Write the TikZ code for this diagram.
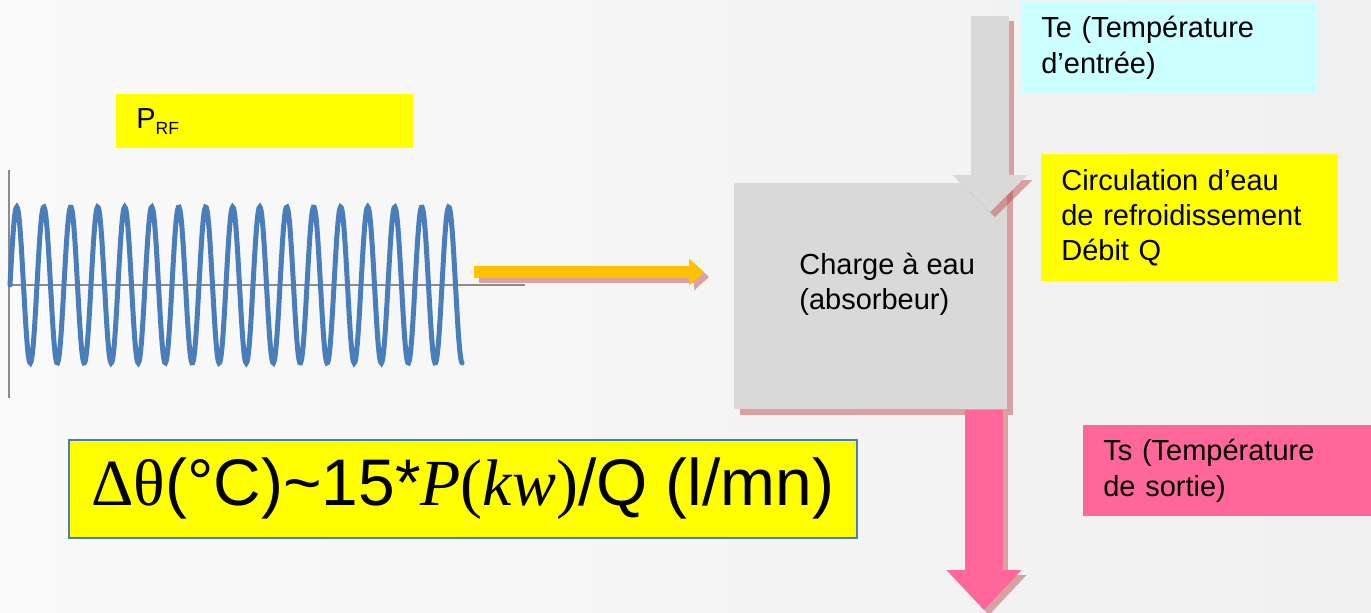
\documentclass[tikz,border=0pt]{standalone}
\usepackage{fontspec}
\setmainfont{Liberation Sans}
\newfontfamily\formulaserif{Liberation Serif}
\usetikzlibrary{arrows.meta,shadows,calc}
\definecolor{rfyellow}{HTML}{FFFF00}
\definecolor{tecyan}{HTML}{CCFFFF}
\definecolor{tspink}{HTML}{FF6699}
\definecolor{rforange}{HTML}{FFC000}
\definecolor{loadgray}{HTML}{D9D9D9}
\definecolor{waveblue}{HTML}{4A7EBB}
\definecolor{shadowred}{HTML}{C0504D}
\definecolor{axisgray}{HTML}{8C8C8C}
\begin{document}
\begin{tikzpicture}[x=0.02cm, y=-0.02cm,
  txt/.style={font=\fontsize{16.5pt}{20pt}\selectfont},
  infobox/.style={txt, anchor=north west, align=left, inner xsep=0.4cm, inner ysep=0pt},
  flowshadow/.style={color=shadowred, opacity=0.5, transform canvas={xshift=0.1cm, yshift=-0.1cm}},
  rfarrow/.style={line width=0.24cm, -{Triangle[width=0.54cm, length=0.3cm, line width=0pt]}},
  waterarrow/.style={line width=0.76cm, -{Triangle[width=1.5cm, length=#1, line width=0pt]}}]
  \path[use as bounding box, left color=black!2, middle color=white, right color=black!6] (0,0) rectangle (1371,612);
  % signal RF
  \draw[axisgray, line width=0.04cm] (9,170) -- (9,398);
  \draw[axisgray, line width=0.04cm] (9,285) -- (525,285);
  \draw[waveblue, line width=0.1cm, line cap=round] plot[domain=0:16.75, samples=600, smooth] ({10+27*\x}, {285-78*sin(360*\x)});
  \node[infobox, fill=rfyellow, text width=5.14cm, minimum height=1.08cm] (prf) at (116,94) {P\raisebox{-3.5pt}{\fontsize{10pt}{12pt}\selectfont RF}};
  % charge
  \node[fill=loadgray, anchor=north west, minimum width=5.46cm, minimum height=4.52cm,
    drop shadow={shadow xshift=0.12cm, shadow yshift=-0.12cm, fill=shadowred, opacity=0.5}] (load) at (734,183) {};
  \node[txt, anchor=west, align=left, inner sep=0pt] (loadtxt) at (799,284) {Charge à eau\\(absorbeur)};
  \coordinate (rfout) at (474,272);
  \draw[rfarrow, flowshadow] (rfout) -- ([xshift=-0.6cm]rfout -| load.west);
  \draw[rfarrow, rforange] (rfout) -- ([xshift=-0.6cm]rfout -| load.west);
  % eau
  \coordinate (tein) at (990,16);
  \coordinate (tsout) at (984,610);
  \draw[waterarrow=0.74cm, flowshadow] (tein) -- ($(tein |- load.north)+(0,29)$);
  \draw[waterarrow=0.74cm, loadgray] (tein) -- ($(tein |- load.north)+(0,29)$);
  \draw[waterarrow=0.8cm, flowshadow] (tsout |- load.south) -- (tsout);
  \draw[waterarrow=0.8cm, tspink] (tsout |- load.south) -- (tsout);
  \node[infobox, fill=tecyan, text width=5.12cm, minimum height=1.82cm] (te) at (1021,2) {Te (Température\\d’entrée)};
  \node[infobox, fill=rfyellow, text width=5.14cm, minimum height=2.54cm] (circ) at (1041,154) {Circulation d’eau\\de refroidissement\\Débit Q};
  \node[infobox, fill=tspink, text width=4.96cm, minimum height=1.82cm] (ts) at (1083,425) {Ts (Température\\de sortie)};
  % formule
  \node[draw=waveblue, line width=0.04cm, fill=rfyellow, anchor=north west, minimum width=15.76cm, minimum height=1.96cm,
    font=\fontsize{37.5pt}{44pt}\selectfont] (formula) at (68,439)
    {{\formulaserif Δθ}(°C)\textasciitilde 15*{\formulaserif\textit{P}(\textit{kw})}/Q (l/mn)};
\end{tikzpicture}
\end{document}
